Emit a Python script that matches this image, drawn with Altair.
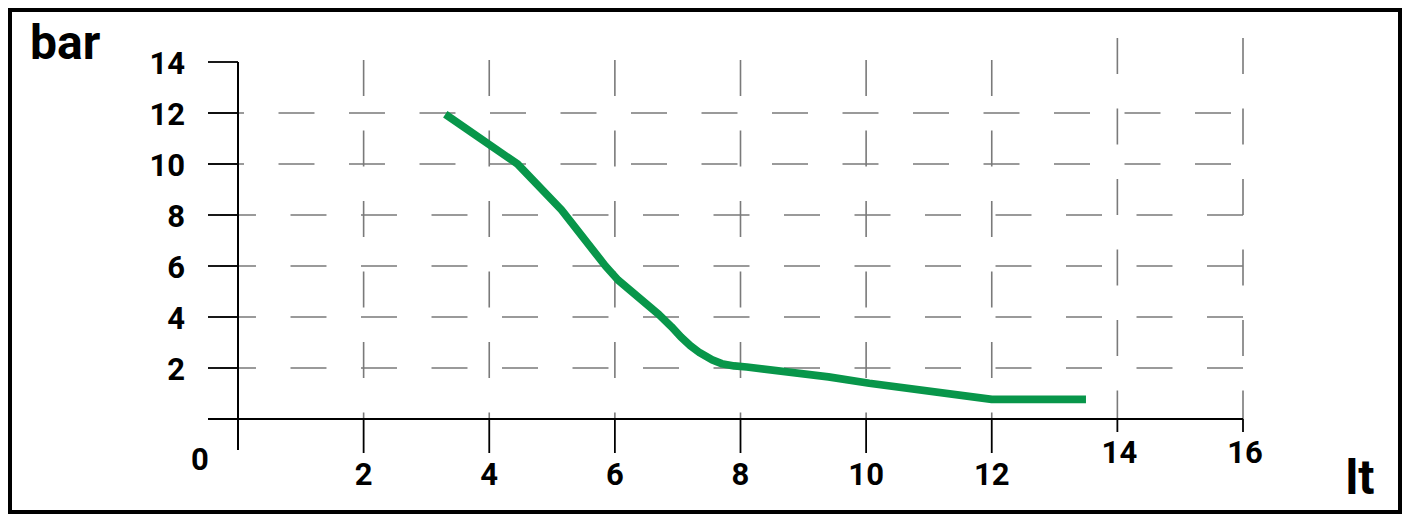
import altair as alt
import pandas as pd

# ---- data ----
flow_lt = [3.3, 4.45, 5.15, 5.85, 6.05, 6.7, 6.9, 7.05, 7.2, 7.35, 7.55, 7.7, 7.9, 8.1, 9.4, 10.05, 12.0, 13.5]
pressure_bar = [11.95, 10.0, 8.2, 6.0, 5.45, 4.1, 3.62, 3.22, 2.88, 2.6, 2.32, 2.17, 2.08, 2.04, 1.65, 1.4, 0.77, 0.77]

y_ticks = [2, 4, 6, 8, 10, 12, 14]
y_grid_upper = [10, 12]
y_grid_lower = [2, 4, 6, 8]
x_ticks_main = [2, 4, 6, 8, 10, 12]
x_ticks_right = [14, 16]

FONT = "Roboto"
GRID = "#7a7a7a"
GREEN = "#08964a"

xs = alt.Scale(domain=[0, 16], range=[230, 1235], nice=False, zero=False)
ys = alt.Scale(domain=[0, 14], range=[411, 54], nice=False, zero=False)

line_df = pd.DataFrame({"lt": flow_lt, "bar": pressure_bar})
ytick_df = pd.DataFrame({"v": y_ticks})
yg_up_df = pd.DataFrame({"v": y_grid_upper})
yg_lo_df = pd.DataFrame({"v": y_grid_lower})
xm_df = pd.DataFrame({"v": x_ticks_main})
xr_df = pd.DataFrame({"v": x_ticks_right})

X = lambda f="v": alt.X(f"{f}:Q", scale=xs, axis=None)
Y = lambda f="v": alt.Y(f"{f}:Q", scale=ys, axis=None)

dash = [36, 34.5]

hgrid_up = alt.Chart(yg_up_df).mark_rule(color=GRID, strokeWidth=1.6, strokeDash=dash).encode(
    y=Y(), x=alt.value(200), x2=alt.value(1235))
hgrid_lo = alt.Chart(yg_lo_df).mark_rule(color=GRID, strokeWidth=1.6, strokeDash=dash).encode(
    y=Y(), x=alt.value(212), x2=alt.value(1235))
vgrid_main = alt.Chart(xm_df).mark_rule(color=GRID, strokeWidth=1.6, strokeDash=dash).encode(
    x=X(), y=alt.value(52), y2=alt.value(411))
vgrid_right = alt.Chart(xr_df).mark_rule(color=GRID, strokeWidth=1.6, strokeDash=dash).encode(
    x=X(), y=alt.value(30), y2=alt.value(411))

yaxis = alt.Chart(ytick_df).mark_rule(color="black", strokeWidth=1.8).encode(
    x=alt.X(datum=0, scale=xs, axis=None), y=alt.value(54), y2=alt.value(442))
xaxis = alt.Chart(ytick_df).mark_rule(color="black", strokeWidth=1.8).encode(
    y=alt.Y(datum=0, scale=ys, axis=None), x=alt.X(datum=16, scale=xs, axis=None),
    x2=alt.value(200))
yticks = alt.Chart(ytick_df).mark_rule(color="black", strokeWidth=1.8).encode(
    y=Y(), x=alt.value(200), x2=alt.value(230))
xticks_main = alt.Chart(xm_df).mark_rule(color="black", strokeWidth=1.8).encode(
    x=X(), y=alt.value(411), y2=alt.value(445))
xticks_right = alt.Chart(xr_df).mark_rule(color="black", strokeWidth=1.8).encode(
    x=X(), y=alt.value(411), y2=alt.value(424))

curve = alt.Chart(line_df).mark_line(color=GREEN, strokeWidth=7.7, strokeCap="butt",
                                     strokeJoin="round").encode(
    x=X("lt"), y=Y("bar"))

txt = dict(font=FONT, fontWeight="bold", fontSize=31, color="black")
ylabels = alt.Chart(ytick_df).mark_text(align="right", baseline="middle", dy=3, **txt).encode(
    y=Y(), x=alt.value(177), text=alt.Text("v:Q"))
xlabels_main = alt.Chart(xm_df).mark_text(align="center", baseline="alphabetic", **txt).encode(
    x=X(), y=alt.value(477), text=alt.Text("v:Q"))
xlabels_right = alt.Chart(xr_df).mark_text(align="center", baseline="alphabetic", dx=2, **txt).encode(
    x=X(), y=alt.value(455), text=alt.Text("v:Q"))
zero_label = alt.Chart(pd.DataFrame({"t": ["0"]})).mark_text(
    align="center", baseline="alphabetic", **txt).encode(
    x=alt.value(192), y=alt.value(462), text="t:N")

big = dict(font=FONT, fontWeight="bold", fontSize=48, color="black")
bar_title = alt.Chart(pd.DataFrame({"t": ["bar"]})).mark_text(
    align="left", baseline="alphabetic", **big).encode(
    x=alt.value(22), y=alt.value(51), text="t:N")
lt_title = alt.Chart(pd.DataFrame({"t": ["lt"]})).mark_text(
    align="center", baseline="alphabetic", **big).encode(
    x=alt.value(1352), y=alt.value(486), text="t:N")

chart = alt.layer(
    hgrid_up, hgrid_lo, vgrid_main, vgrid_right,
    yaxis, xaxis, yticks, xticks_main, xticks_right,
    curve,
    ylabels, xlabels_main, xlabels_right, zero_label, bar_title, lt_title,
).properties(
    width=1394, height=506,
    autosize=alt.AutoSizeParams(type="none"),
    padding=0,
    background="white",
).configure_view(stroke="black", strokeWidth=8)

chart.save("out.html", embed_options={"renderer": "svg", "actions": False})
